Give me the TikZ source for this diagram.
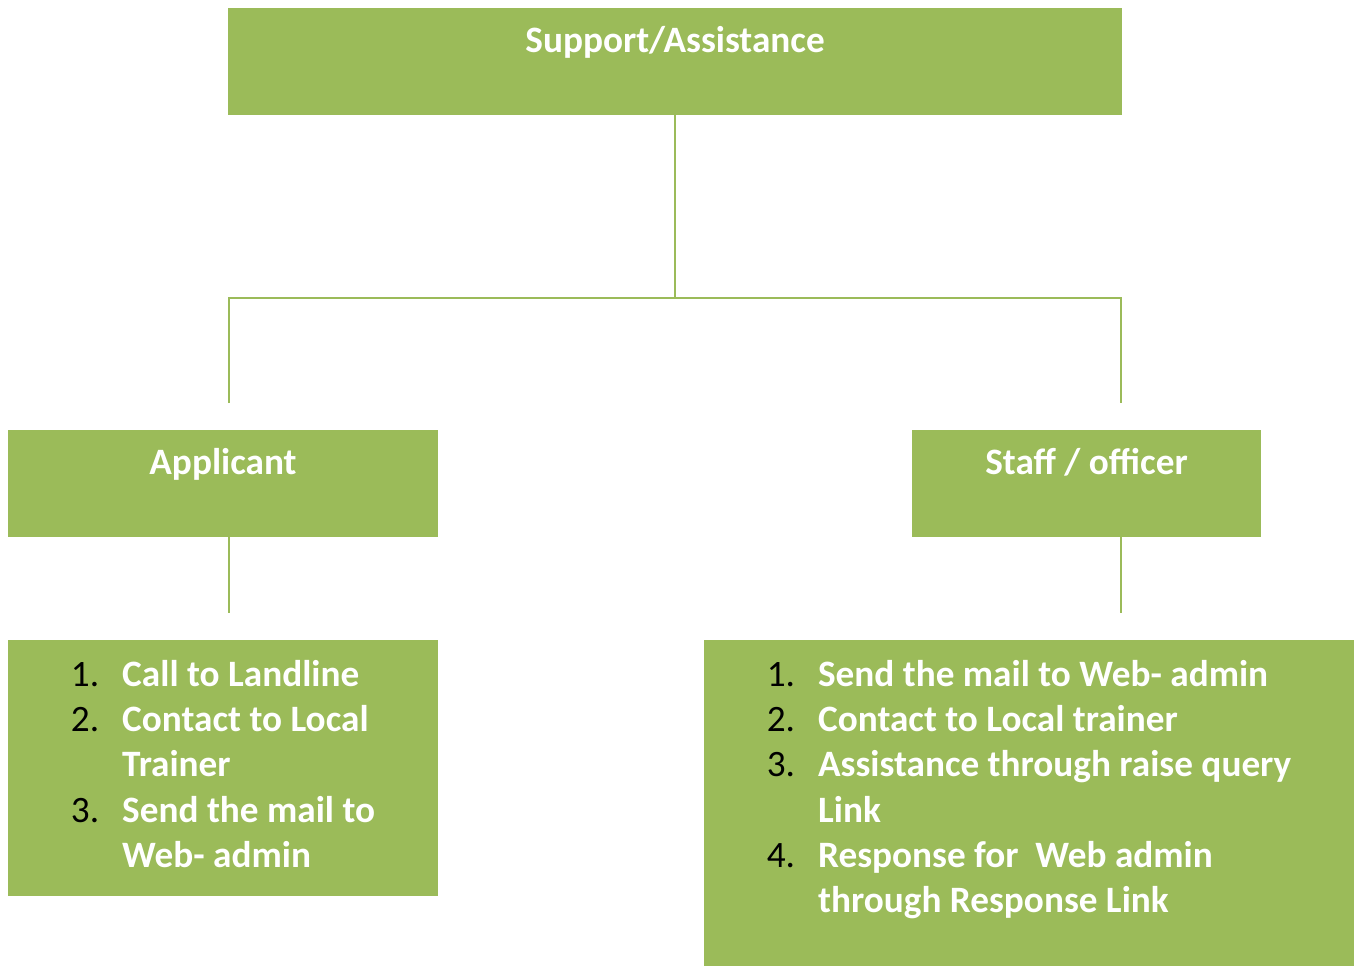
\documentclass[tikz,border=0pt]{standalone}
\usepackage{fontspec}
\setmainfont{Carlito}
\usepackage{xcolor}
\usetikzlibrary{shapes.geometric,positioning}
\definecolor{olivegreen}{HTML}{9BBB59}
\newcommand{\itm}[1]{\color{black}\mdseries #1.}

\begin{document}
\begin{tikzpicture}[x=0.02cm,y=-0.02cm,
	box/.style={fill=olivegreen,inner sep=0pt,text=white,font=\fontsize{21.2}{25.8}\selectfont\bfseries,text height=0.89cm,text depth=1.25cm},
	listbox/.style={fill=olivegreen,inner sep=0pt,text=white,font=\fontsize{21.2}{25.8}\selectfont\bfseries,text height=0.92cm},
	link/.style={draw=olivegreen,line width=1.2pt}]
\useasboundingbox (0,0) rectangle (1361,967);
\node[box,minimum width=17.88cm] (support) at (675,61.5) {Support/Assistance};
\node[box,minimum width=8.6cm] (applicant) at (223,483.5) {Applicant};
\node[box,minimum width=6.98cm] (staff) at (1086.5,483.5) {Staff / officer};
\node[listbox,minimum width=8.6cm,text depth=4.2cm] (applist) at (223,768) {
	\begin{tabular}[t]{@{}r@{\hspace{0.46cm}}l@{}}
	\itm{1} & Call to Landline\\
	\itm{2} & Contact to Local\\
	 & Trainer\\
	\itm{3} & Send the mail to\\
	 & Web- admin
	\end{tabular}};
\node[listbox,minimum width=13cm,text depth=5.6cm] (stafflist) at (1029,803) {
	\begin{tabular}[t]{@{}r@{\hspace{0.46cm}}l@{}}
	\itm{1} & Send the mail to Web- admin\\
	\itm{2} & Contact to Local trainer\\
	\itm{3} & Assistance through raise query\\
	 & Link\\
	\itm{4} & Response for\ \ Web admin\\
	 & through Response Link
	\end{tabular}};
\coordinate (hub) at (675,298);
\coordinate (appin) at (229,403);
\coordinate (staffin) at (1121,403);
\coordinate (appout) at (229,613);
\coordinate (staffout) at (1121,613);
\draw[link] (support) -- (hub);
\draw[link] (appin) |- (hub) -| (staffin);
\draw[link] (applicant.south -| appout) -- (appout);
\draw[link] (staff.south -| staffout) -- (staffout);
\end{tikzpicture}
\end{document}
